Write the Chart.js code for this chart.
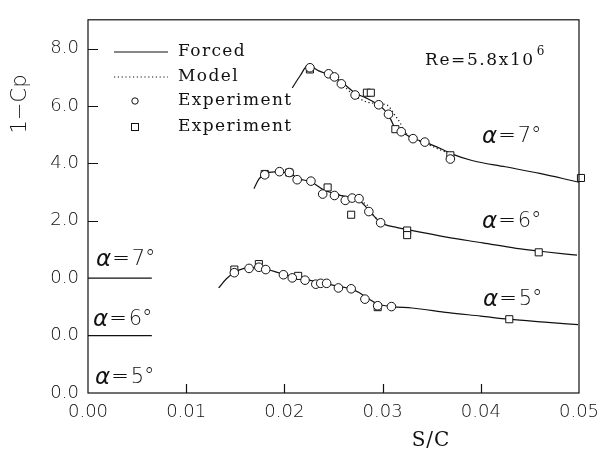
<!DOCTYPE html>
<html>
<head>
<meta charset="utf-8">
<script src="https://cdn.jsdelivr.net/npm/chart.js@4.4.1/dist/chart.umd.min.js"></script>
<style>
  html, body { margin: 0; padding: 0; background: #fff; }
  #chart { display: block; }
</style>
</head>
<body>
<canvas id="chart" width="611" height="455"></canvas>
<script>
// 1-Cp against S/C near the leading edge, three incidences stacked with offsets
const offsets = { a5: 0, a6: 2, a7: 4 };
const xTicks = [0, 0.01, 0.02, 0.03, 0.04, 0.05];
const yTicks = [0, 2, 4, 6, 8, 10, 12];
const yTickLabels = ['0.0', '0.0', '0.0', '2.0', '4.0', '6.0', '8.0'];
const baselineEnd = 0.0065; // short zero lines for the shifted curves

// alpha = 5 deg
const forced5X = [0.0133, 0.0141, 0.0150, 0.0158, 0.0166, 0.0180, 0.0195, 0.0210, 0.0225, 0.0240, 0.0255, 0.0268, 0.0276, 0.0284, 0.0295, 0.0310, 0.0330, 0.0367, 0.0400, 0.0429, 0.0465, 0.0499];
const forced5Y = [3.66, 3.98, 4.22, 4.33, 4.37, 4.32, 4.18, 4.05, 3.93, 3.82, 3.72, 3.62, 3.50, 3.32, 3.10, 3.01, 2.96, 2.80, 2.68, 2.57, 2.47, 2.38];
const circ5X = [0.0149, 0.0164, 0.0174, 0.0181, 0.0199, 0.0208, 0.0221, 0.0232, 0.0237, 0.0243, 0.0255, 0.0268, 0.0282, 0.0295, 0.0309];
const circ5Y = [4.19, 4.34, 4.38, 4.30, 4.12, 4.01, 3.93, 3.79, 3.82, 3.82, 3.66, 3.63, 3.27, 3.04, 3.01];
const sq5X = [0.0149, 0.0174, 0.0214, 0.0295, 0.0429];
const sq5Y = [4.30, 4.49, 4.08, 2.99, 2.57];

// alpha = 6 deg
const forced6X = [0.0169, 0.0174, 0.0180, 0.0190, 0.0205, 0.0215, 0.0227, 0.0240, 0.0255, 0.0270, 0.0278, 0.0287, 0.0298, 0.0315, 0.0333, 0.0365, 0.0402, 0.0436, 0.0465, 0.0498];
const forced6Y = [5.12, 5.45, 5.64, 5.70, 5.66, 5.46, 5.36, 5.08, 4.90, 4.78, 4.66, 4.32, 3.94, 3.76, 3.64, 3.43, 3.23, 3.04, 2.92, 2.80];
const model6X = [0.0255, 0.0268, 0.0278, 0.0284, 0.0290, 0.0298];
const model6Y = [4.90, 4.80, 4.66, 4.56, 4.22, 3.95];
const circ6X = [0.0180, 0.0195, 0.0205, 0.0213, 0.0227, 0.0239, 0.0251, 0.0262, 0.0269, 0.0276, 0.0286, 0.0298];
const circ6Y = [5.60, 5.71, 5.68, 5.43, 5.38, 4.93, 4.88, 4.71, 4.79, 4.77, 4.32, 3.93];
const sq6X = [0.0180, 0.0205, 0.0244, 0.0268, 0.0325, 0.0325, 0.0459];
const sq6Y = [5.63, 5.68, 5.16, 4.21, 3.66, 3.50, 2.90];

// alpha = 7 deg
const forced7X = [0.0208, 0.0216, 0.0224, 0.0235, 0.0250, 0.0260, 0.0272, 0.0283, 0.0295, 0.0302, 0.0308, 0.0313, 0.0320, 0.0330, 0.0343, 0.0360, 0.0371, 0.0391, 0.0425, 0.0460, 0.0490, 0.0500];
const forced7Y = [6.63, 7.05, 7.41, 7.22, 7.02, 6.78, 6.45, 6.28, 6.05, 5.85, 5.55, 5.20, 5.08, 4.88, 4.74, 4.50, 4.32, 4.10, 3.88, 3.65, 3.42, 3.34];
const model7X = [0.0245, 0.0258, 0.0270, 0.0283, 0.0295, 0.0305, 0.0312, 0.0318, 0.0322, 0.0330, 0.0345, 0.0360, 0.0368];
const model7Y = [7.12, 6.78, 6.40, 6.15, 6.08, 6.02, 5.70, 5.40, 5.12, 4.90, 4.68, 4.45, 4.35];
const circ7X = [0.0226, 0.0245, 0.0251, 0.0258, 0.0272, 0.0296, 0.0306, 0.0319, 0.0331, 0.0343, 0.0369];
const circ7Y = [7.33, 7.12, 7.01, 6.77, 6.38, 6.04, 5.71, 5.10, 4.86, 4.74, 4.15];
const sq7X = [0.0226, 0.0284, 0.0288, 0.0313, 0.0369, 0.0502];
const sq7Y = [7.27, 6.46, 6.46, 5.19, 4.28, 3.49];

const legendLabels = ['Forced', 'Model', 'Experiment', 'Experiment'];
const ink = '#111';

function pts(xs, ys, off) {
  return xs.map((x, i) => ({ x, y: ys[i] + off }));
}

function forced(xs, ys, off) {
  return { data: pts(xs, ys, off), showLine: true, borderColor: ink, borderWidth: 1.2,
    pointRadius: 0, cubicInterpolationMode: 'monotone', order: 3 };
}
function model(xs, ys, off) {
  return { data: pts(xs, ys, off), showLine: true, borderColor: ink, borderWidth: 1.2,
    borderDash: [1.2, 2.6], pointRadius: 0, cubicInterpolationMode: 'monotone', order: 3 };
}
function circles(xs, ys, off) {
  return { data: pts(xs, ys, off), pointStyle: 'circle', pointRadius: 4.3,
    pointBackgroundColor: '#fff', pointBorderColor: ink, pointBorderWidth: 1, order: 1, clip: false };
}
function squares(xs, ys, off) {
  return { data: pts(xs, ys, off), pointStyle: 'rect', pointRadius: 5,
    pointBackgroundColor: '#fff', pointBorderColor: ink, pointBorderWidth: 1, order: 2, clip: false };
}
function baseline(off) {
  return { data: [{ x: 0, y: off }, { x: baselineEnd, y: off }], showLine: true,
    borderColor: ink, borderWidth: 1.2, pointRadius: 0, order: 4 };
}

const datasets = [
  baseline(offsets.a6), baseline(offsets.a7),
  forced(forced5X, forced5Y, offsets.a5),
  forced(forced6X, forced6Y, offsets.a6),
  forced(forced7X, forced7Y, offsets.a7),
  model(model6X, model6Y, offsets.a6),
  model(model7X, model7Y, offsets.a7),
  squares(sq5X, sq5Y, offsets.a5),
  squares(sq6X, sq6Y, offsets.a6),
  squares(sq7X, sq7Y, offsets.a7),
  circles(circ5X, circ5Y, offsets.a5),
  circles(circ6X, circ6Y, offsets.a6),
  circles(circ7X, circ7Y, offsets.a7),
];

function alphaLabel(ctx, deg, x, y) {
  ctx.textBaseline = 'middle';
  ctx.textAlign = 'left';
  ctx.font = 'italic 300 23px "DejaVu Sans", sans-serif';
  ctx.fillText('\u03b1', x, y);
  let w = ctx.measureText('\u03b1').width;
  ctx.font = '200 21px "DejaVu Sans", sans-serif';
  ctx.fillText('=', x + w + 1, y);
  w += ctx.measureText('=').width + 3;
  ctx.fillText(deg + '\u00b0', x + w, y);
}

const decorations = {
  id: 'decorations',
  afterDatasetsDraw(chart) {
    const { ctx, chartArea: a, scales } = chart;
    const xs = scales.x, ys = scales.y;
    ctx.save();
    ctx.strokeStyle = ink;
    ctx.fillStyle = ink;
    ctx.lineWidth = 1.2;
    ctx.strokeRect(a.left, a.top, a.right - a.left, a.bottom - a.top);

    // ticks point into the frame
    ctx.beginPath();
    xTicks.slice(1, -1).forEach(v => {
      const px = Math.round(xs.getPixelForValue(v)) + 0.5;
      ctx.moveTo(px, a.bottom); ctx.lineTo(px, a.bottom - 9);
    });
    yTicks.filter(v => v > offsets.a7).forEach(v => {
      const py = Math.round(ys.getPixelForValue(v)) + 0.5;
      ctx.moveTo(a.left, py); ctx.lineTo(a.left + 10, py);
    });
    ctx.stroke();

    // axis titles
    ctx.font = '20px "DejaVu Serif", serif';
    ctx.textAlign = 'center';
    ctx.textBaseline = 'middle';
    ctx.letterSpacing = '1px';
    ctx.fillText('S/C', 431, 441);
    ctx.letterSpacing = '0px';
    ctx.save();
    ctx.translate(21, 104);
    ctx.rotate(-Math.PI / 2);
    ctx.font = '300 21px "DejaVu Sans", sans-serif';
    ctx.fillText('1\u2212Cp', 0, 0);
    ctx.restore();

    // legend
    const lx0 = 114, lx1 = 168, tx = 178;
    const rows = [52, 77, 101, 127];
    ctx.lineWidth = 1.2;
    ctx.beginPath(); ctx.moveTo(lx0, rows[0]); ctx.lineTo(lx1, rows[0]); ctx.stroke();
    ctx.setLineDash([1.2, 2.6]);
    ctx.beginPath(); ctx.moveTo(lx0, rows[1]); ctx.lineTo(lx1, rows[1]); ctx.stroke();
    ctx.setLineDash([]);
    ctx.lineWidth = 1;
    ctx.beginPath(); ctx.arc(135, rows[2], 3.2, 0, Math.PI * 2); ctx.stroke();
    ctx.strokeRect(131.5, rows[3] - 3.5, 7, 7);
    ctx.font = '17px "DejaVu Serif", serif';
    ctx.textAlign = 'left';
    ctx.letterSpacing = '1.4px';
    legendLabels.forEach((t, i) => ctx.fillText(t, tx, rows[i]));

    // Reynolds number
    ctx.letterSpacing = '1.6px';
    ctx.fillText('Re=5.8x10', 425, 61);
    const rw = ctx.measureText('Re=5.8x10').width;
    ctx.font = '12px "DejaVu Serif", serif';
    ctx.fillText('6', 425 + rw + 2, 52);
    ctx.letterSpacing = '0px';

    // incidence labels
    alphaLabel(ctx, 7, 482, 137);
    alphaLabel(ctx, 6, 482, 222);
    alphaLabel(ctx, 5, 483, 300);
    alphaLabel(ctx, 7, 96, 260);
    alphaLabel(ctx, 6, 93, 320);
    alphaLabel(ctx, 5, 95, 378);
    ctx.restore();
  }
};

const tickFont = { family: '"DejaVu Sans", sans-serif', size: 18, weight: 300 };

new Chart(document.getElementById('chart').getContext('2d'), {
  type: 'scatter',
  data: { datasets },
  options: {
    responsive: false,
    devicePixelRatio: 1,
    animation: false,
    layout: { padding: { left: 0, right: 32, top: 4, bottom: 0 } },
    plugins: { legend: { display: false }, tooltip: { enabled: false } },
    scales: {
      x: {
        type: 'linear', min: 0, max: 0.05,
        afterBuildTicks: s => { s.ticks = xTicks.map(v => ({ value: v })); },
        afterFit: s => { s.height = 62; },
        grid: { display: false, drawTicks: false },
        border: { display: false },
        ticks: { padding: 9, color: ink, font: tickFont, callback: v => v.toFixed(2), maxRotation: 0 },
      },
      y: {
        type: 'linear', min: 0, max: 13,
        afterBuildTicks: s => { s.ticks = yTicks.map(v => ({ value: v })); },
        afterFit: s => { s.width = 88; },
        grid: { display: false, drawTicks: false },
        border: { display: false },
        ticks: { padding: 9, color: ink, font: tickFont, callback: v => yTickLabels[yTicks.indexOf(v)] },
      },
    },
  },
  plugins: [decorations],
});
</script>
</body>
</html>
